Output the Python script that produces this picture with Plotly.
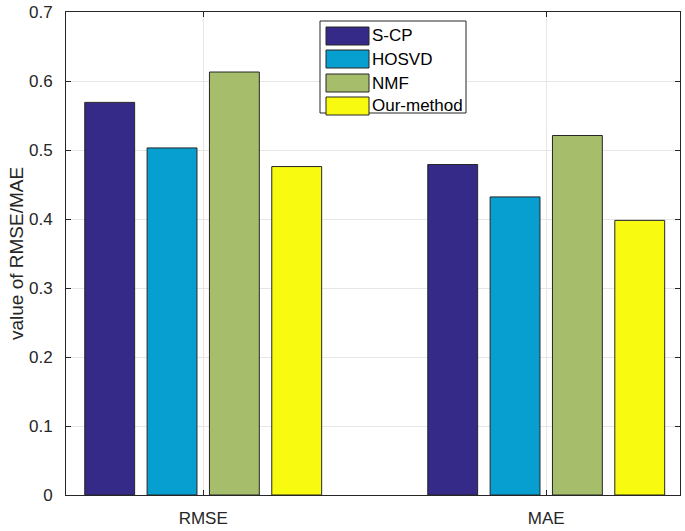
import plotly.graph_objects as go

categories = ["RMSE", "MAE"]
methods = ["S-CP", "HOSVD", "NMF", "Our-method"]
scp = [0.569, 0.479]
hosvd = [0.503, 0.432]
nmf = [0.613, 0.521]
ours = [0.476, 0.398]
series = [scp, hosvd, nmf, ours]
colors = ["#352a87", "#069fcf", "#a6be6b", "#f8fa0f"]
yticks = [0, 0.1, 0.2, 0.3, 0.4, 0.5, 0.6, 0.7]

W, H = 685, 531
L, R, T, B = 66, 5, 12, 36
pw, ph = W - L - R, H - T - B

def px(x):
    return (x - L) / pw

def py(y):
    return (H - B - y) / ph

xpos = [1, 2]
fig = go.Figure()
for name, vals, col in zip(methods, series, colors):
    fig.add_trace(go.Bar(
        x=xpos, y=vals, name=name,
        marker=dict(color=col, line=dict(color="#262626", width=1)),
        showlegend=False,
    ))

font = "Liberation Sans, Arial, Helvetica, sans-serif"
fig.update_layout(
    width=W, height=H,
    margin=dict(l=L, r=R, t=T, b=B, autoexpand=False),
    paper_bgcolor="white", plot_bgcolor="white",
    barmode="group", bargap=0.273, bargroupgap=0.2,
    font=dict(family=font, size=17, color="#262626"),
)
fig.update_xaxes(
    range=[0.6, 2.39], tickvals=xpos, ticktext=categories,
    showgrid=True, gridcolor="#e6e6e6", gridwidth=1,
    showline=True, linecolor="#262626", linewidth=1, mirror="ticks",
    ticks="inside", ticklen=5, tickcolor="#262626",
    tickfont=dict(size=17, color="#262626"), zeroline=False,
    ticklabelstandoff=8, ticklabeloverflow="allow",
)
fig.update_yaxes(
    range=[0, 0.7], tickvals=yticks, ticktext=[("%g" % v) for v in yticks],
    showgrid=True, gridcolor="#e6e6e6", gridwidth=1,
    showline=True, linecolor="#262626", linewidth=1, mirror="ticks",
    ticks="inside", ticklen=5, tickcolor="#262626",
    tickfont=dict(size=17, color="#262626"), zeroline=False,
    ticklabelstandoff=9, ticklabeloverflow="allow",
    title=dict(text="value of RMSE/MAE", font=dict(size=19, color="#262626"), standoff=0),
)

# MATLAB-style legend box
box_l, box_r, box_t, box_b = 320, 466, 21, 113
fig.add_shape(type="rect", xref="paper", yref="paper",
              x0=px(box_l), x1=px(box_r), y0=py(box_b), y1=py(box_t),
              line=dict(color="#262626", width=1), fillcolor="white", layer="above")
row_centers = [36, 59, 83, 106]
for name, col, cy in zip(methods, colors, row_centers):
    fig.add_shape(type="rect", xref="paper", yref="paper",
                  x0=px(326), x1=px(369), y0=py(cy + 9), y1=py(cy - 9),
                  line=dict(color="#262626", width=1), fillcolor=col, layer="above")
    fig.add_annotation(xref="paper", yref="paper", x=px(370), y=py(cy),
                       text=name, showarrow=False, xanchor="left", yanchor="middle",
                       font=dict(size=17, color="#000000", family=font))

fig.write_html("out.html", config={"displayModeBar": False},
               post_script="document.body.style.margin='0';document.body.style.overflow='hidden';")
